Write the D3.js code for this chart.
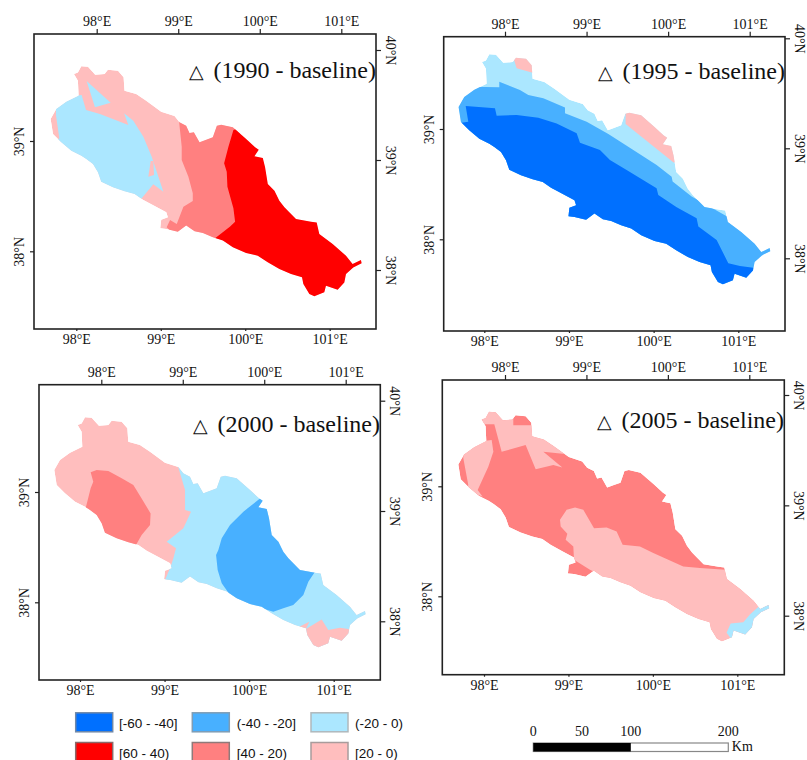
<!DOCTYPE html>
<html>
<head>
<meta charset="utf-8">
<title>Change from baseline maps</title>
<script src="https://d3js.org/d3.v7.min.js"></script>
<style>
    html, body { margin: 0; padding: 0; background: white; overflow: hidden; }
    text { font-family: "Liberation Serif", serif; fill: #111; }
    .lab { font-family: "Liberation Sans", sans-serif; font-size: 13.5px; }
</style>
</head>
<body>
<svg id="chart" width="807" height="760"></svg>
<script>
// tick values
const lonTicks = [98, 99, 100, 101];
const latTicksLeft = [38, 39];
const latTicksRight = [38, 39, 40];
const scaleKm = [0, 50, 100, 200];

// class names and colours
const legendLabels = ["[-60 - -40]", "(-40 - -20]", "(-20 - 0)", "[60 - 40)", "[40 - 20)", "[20 - 0)"];
const deepBlue = "#0070ff", midBlue = "#48b0ff", lightBlue = "#abe7ff";
const red = "#ff0000", midRed = "#ff8080", pink = "#ffbebe";
const legendColors = [deepBlue, midBlue, lightBlue, red, midRed, pink];

// basin outline, lon/lat read against the bottom and left axes
const outline = [[97.972,39.607],[98.019,39.622],[98.059,39.677],[98.138,39.674],[98.224,39.601],[98.335,39.607],[98.374,39.646],[98.493,39.637],[98.560,39.577],[98.571,39.456],[98.709,39.426],[98.828,39.365],[99.005,39.266],[99.163,39.226],[99.222,39.169],[99.301,39.139],[99.340,39.072],[99.392,39.079],[99.459,38.988],[99.538,39.012],[99.616,39.033],[99.664,39.139],[99.715,39.148],[99.853,39.124],[100.011,39.018],[100.117,38.943],[100.160,38.921],[100.109,38.861],[100.208,38.846],[100.235,38.761],[100.267,38.610],[100.346,38.550],[100.404,38.459],[100.464,38.399],[100.522,38.353],[100.601,38.292],[100.779,38.268],[100.846,38.262],[100.877,38.157],[101.035,38.066],[101.193,37.960],[101.271,37.885],[101.370,37.921],[101.378,37.891],[101.279,37.854],[101.193,37.794],[101.173,37.718],[101.094,37.652],[100.956,37.688],[100.936,37.628],[100.818,37.592],[100.759,37.613],[100.688,37.703],[100.672,37.764],[100.542,37.794],[100.404,37.839],[100.266,37.900],[100.148,37.960],[100.010,37.985],[99.853,38.036],[99.735,38.097],[99.616,38.127],[99.498,38.166],[99.400,38.181],[99.301,38.233],[99.202,38.178],[99.065,38.202],[98.994,38.208],[99.005,38.287],[99.084,38.308],[99.065,38.353],[98.927,38.410],[98.788,38.468],[98.690,38.520],[98.571,38.544],[98.433,38.580],[98.295,38.631],[98.256,38.716],[98.197,38.791],[98.118,38.837],[98.059,38.867],[97.941,38.912],[97.822,38.988],[97.724,39.063],[97.696,39.199],[97.763,39.290],[97.882,39.356],[98.027,39.411],[98.019,39.547]];

// class zones, clipped to the outline when drawn
const zones1990 = [
    [midRed, [[99.217,39.190],[99.939,39.190],[99.939,38.103],[99.157,38.148],[99.070,38.218],[99.110,38.284],[99.189,38.248],[99.268,38.405],[99.379,38.456],[99.379,38.526],[99.327,38.677],[99.248,38.828],[99.248,38.949],[99.217,39.175]]],
    [red, [[99.860,39.100],[100.097,39.160],[101.835,38.163],[101.835,37.408],[100.650,37.408],[99.623,38.088],[99.643,38.118],[99.821,38.224],[99.880,38.269],[99.860,38.390],[99.789,38.586],[99.781,38.722],[99.750,38.798],[99.801,38.949]]],
    [lightBlue, [[97.759,39.311],[97.885,39.402],[98.063,39.417],[98.115,39.281],[98.280,39.245],[98.616,39.145],[98.565,39.251],[98.675,39.184],[98.794,39.039],[98.893,38.858],[98.952,38.722],[99.031,38.541],[98.912,38.607],[98.747,38.456],[98.280,38.405],[97.609,38.918],[97.799,39.024],[97.759,39.236]]],
    [pink, [[98.881,38.819],[98.912,38.819],[98.920,38.692],[98.853,38.677]]],
    [lightBlue, [[98.122,39.544],[98.407,39.347],[98.221,39.305]]]
];
const zones1995 = [
    [midBlue, [[97.594,39.263],[97.831,39.384],[98.177,39.378],[98.177,39.429],[98.421,39.353],[98.520,39.308],[98.697,39.278],[98.953,39.196],[98.953,39.142],[99.209,39.066],[99.465,38.955],[99.760,38.810],[100.035,38.674],[100.213,38.568],[100.224,38.523],[100.449,38.387],[101.925,37.752],[100.941,37.148],[97.398,38.659]]],
    [deepBlue, [[97.780,39.208],[98.126,39.187],[98.146,39.121],[98.382,39.127],[98.638,39.103],[98.854,39.051],[99.091,38.961],[99.130,38.876],[99.366,38.810],[99.484,38.719],[99.681,38.628],[100.035,38.462],[100.055,38.402],[100.272,38.290],[100.508,38.190],[100.528,38.115],[100.744,37.994],[100.882,37.783],[101.020,37.758],[101.177,37.743],[101.335,37.299],[100.154,37.148],[97.398,38.659],[97.732,39.057],[97.811,39.066]]],
    [pink, [[98.350,39.631],[98.421,39.716],[98.657,39.716],[98.657,39.492],[98.571,39.511],[98.382,39.550]]],
    [pink, [[99.669,39.142],[99.760,39.263],[100.547,39.112],[100.547,38.659],[100.232,38.698],[99.669,39.045]]]
];
const zones2000 = [
    [lightBlue, [[99.143,39.275],[100.208,39.381],[101.981,38.021],[101.981,37.417],[100.208,37.417],[99.005,38.112],[99.005,38.202],[99.072,38.323],[99.104,38.399],[99.135,38.489],[99.025,38.550],[99.222,38.671],[99.313,38.822],[99.242,38.837],[99.242,39.018]]],
    [pink, [[100.593,37.779],[100.712,37.824],[100.672,37.758],[100.858,37.845],[100.936,37.749],[101.074,37.770],[101.173,37.758],[101.271,37.688],[101.193,37.447],[100.522,37.447]]],
    [midBlue, [[100.117,38.934],[99.932,38.822],[99.774,38.701],[99.676,38.580],[99.636,38.474],[99.609,38.429],[99.628,38.293],[99.676,38.172],[99.774,38.067],[100.011,37.961],[100.148,37.945],[100.286,37.915],[100.404,37.945],[100.522,37.975],[100.641,38.066],[100.700,38.187],[100.779,38.277],[100.900,38.500],[100.326,38.988],[100.168,38.958]]],
    [midRed, [[98.126,39.178],[98.197,39.199],[98.335,39.190],[98.493,39.124],[98.631,39.063],[98.729,38.942],[98.835,38.806],[98.828,38.701],[98.729,38.610],[98.662,38.519],[98.433,38.474],[98.000,38.776],[98.071,38.867],[98.126,39.033],[98.157,39.093]]]
];
const zones2005 = [
    [pink, [[97.953,39.565],[98.122,39.565],[98.209,39.314],[98.493,39.375],[98.612,39.154],[98.821,39.193],[98.928,39.172],[98.703,39.314],[98.959,39.293],[98.860,39.450],[98.564,39.556],[98.347,39.556],[98.347,39.662],[97.992,39.722]]],
    [pink, [[97.755,39.254],[97.755,39.390],[98.091,39.420],[98.111,39.314],[98.051,39.178],[97.925,38.967],[97.984,38.906],[97.795,38.967],[97.814,39.012]]],
    [pink, [[98.900,38.695],[98.979,38.786],[99.078,38.807],[99.176,38.786],[99.303,38.619],[99.452,38.625],[99.571,38.589],[99.642,38.468],[99.847,38.453],[100.005,38.393],[100.360,38.272],[100.558,38.257],[100.854,38.242],[101.939,38.121],[101.939,37.366],[100.163,37.366],[99.334,38.151],[99.334,38.212],[99.255,38.242],[99.066,38.332],[99.058,38.453],[98.967,38.514],[98.987,38.568],[98.908,38.634]]],
    [lightBlue, [[101.248,37.903],[101.150,37.834],[101.071,37.764],[100.921,37.752],[100.873,37.668],[100.933,37.607],[101.347,37.517],[101.742,37.819],[101.426,37.970]]]
];

const svg = d3.select("#chart");

// frame is the map box, b/l/t/r are pixel anchors of the four graticule axes
const panels = [
    {id: "p1", title: "(1990 - baseline)", base: pink, zones: zones1990, frame: [34, 34, 376, 329], b: [76.3, 329.7], l: [251.3, 141], t: [96.7, 341.3], r: [270, 50], tx: 376, ty: 78},
    {id: "p2", title: "(1995 - baseline)", base: lightBlue, zones: zones1995, frame: [443.7, 36.7, 785, 331], b: [484.3, 738.3], l: [239.3, 129], t: [505, 749.7], r: [258.3, 38.3], tx: 785, ty: 79},
    {id: "p3", title: "(2000 - baseline)", base: pink, zones: zones2000, frame: [39, 384.7, 380.3, 680], b: [80, 333.7], l: [602.3, 492], t: [101.3, 345.7], r: [621.3, 400.7], tx: 380, ty: 432},
    {id: "p4", title: "(2005 - baseline)", base: midRed, zones: zones2005, frame: [442.3, 380, 784.3, 674.7], b: [484, 737.3], l: [596.3, 486.3], t: [505, 749.3], r: [615.7, 395], tx: 784, ty: 428}
];

panels.forEach(function(p) {
    var x = d3.scaleLinear().domain([98, 101]).range(p.b);
    var y = d3.scaleLinear().domain([38, 39]).range(p.l);
    var xTop = d3.scaleLinear().domain([98, 101]).range(p.t);
    var yRight = d3.scaleLinear().domain([38, 40]).range(p.r);

    var line = d3.line().x(d => x(d[0])).y(d => y(d[1]));

    svg.append("clipPath").attr("id", "clip-" + p.id)
        .append("path").attr("d", line(outline) + "Z");

    var g = svg.append("g").attr("clip-path", "url(#clip-" + p.id + ")");
    g.append("path").attr("d", line(outline) + "Z").attr("fill", p.base);
    g.selectAll(".zone").data(p.zones).enter().append("path")
        .attr("d", d => line(d[1]) + "Z")
        .attr("fill", d => d[0]);

    var f = p.frame;
    svg.append("rect").attr("x", f[0]).attr("y", f[1])
        .attr("width", f[2] - f[0]).attr("height", f[3] - f[1])
        .attr("fill", "none").attr("stroke", "#222").attr("stroke-width", 1.6);

    // graticule labels
    var axB = svg.append("g").attr("transform", "translate(0," + f[3] + ")")
        .call(d3.axisBottom(x).tickValues(lonTicks).tickFormat(d => d + "°E").tickSize(2).tickPadding(3));
    var axT = svg.append("g").attr("transform", "translate(0," + f[1] + ")")
        .call(d3.axisTop(xTop).tickValues(lonTicks).tickFormat(d => d + "°E").tickSize(5).tickPadding(3));
    var axL = svg.append("g").attr("transform", "translate(" + f[0] + ",0)")
        .call(d3.axisLeft(y).tickValues(latTicksLeft).tickFormat(d => d + "°N").tickSize(4));
    var axR = svg.append("g").attr("transform", "translate(" + f[2] + ",0)")
        .call(d3.axisRight(yRight).tickValues(latTicksRight).tickFormat(d => d + "°N").tickSize(5));

    [axB, axT, axL, axR].forEach(function(a) {
        a.select(".domain").remove();
        a.selectAll("line").attr("stroke", "#222").attr("stroke-width", 1.2);
        a.selectAll("text").style("font-family", '"Liberation Serif", serif').style("font-size", "14px").attr("fill", "#111");
    });
    axL.selectAll("text").attr("x", null).attr("dy", null)
        .attr("transform", "translate(-10,0) rotate(-90)").attr("text-anchor", "middle");
    axR.selectAll("text").attr("x", null).attr("dy", null)
        .attr("transform", "translate(10,0) rotate(90)").attr("text-anchor", "middle");

    svg.append("text").attr("x", p.tx).attr("y", p.ty).attr("text-anchor", "end")
        .style("font-size", "24px").text(p.title);
    svg.append("text").attr("x", p.tx - 187.5).attr("y", p.ty - 0.5).style("font-size", "18.5px").text("\u25B3");
});

// legend
var legendX = [75.7, 192.3, 311];
var legendY = [712.8, 742.5];
var labelX = [119, 236.7, 355];
var legendStroke = ["#6f88a8", "#7f9db5", "#b0b8bc", "#8a6a6a", "#8f7a7a", "#a89c9c"];
legendLabels.forEach(function(lab, i) {
    var c = i % 3, r = Math.floor(i / 3);
    svg.append("rect").attr("x", legendX[c]).attr("y", legendY[r]).attr("width", 37).attr("height", 19)
        .attr("fill", legendColors[i]).attr("stroke", legendStroke[i]).attr("stroke-width", 1.5);
    svg.append("text").attr("class", "lab").attr("x", labelX[c]).attr("y", legendY[r] + 15).text(lab);
});

// scale bar
var km = d3.scaleLinear().domain([0, 200]).range([533.3, 728.3]);
svg.append("rect").attr("x", km(0)).attr("y", 743).attr("width", km(200) - km(0)).attr("height", 8.5)
    .attr("fill", "white").attr("stroke", "#888").attr("stroke-width", 1.2);
svg.append("rect").attr("x", km(0)).attr("y", 743).attr("width", km(100) - km(0)).attr("height", 8.5)
    .attr("fill", "black");
svg.selectAll(".km").data(scaleKm).enter().append("text").attr("class", "km")
    .attr("x", d => km(d)).attr("y", 736).attr("text-anchor", "middle")
    .style("font-size", "14px").text(d => d);
svg.append("text").attr("x", km(200) + 3.5).attr("y", 751).style("font-size", "14px").text("Km");
</script>
</body>
</html>
